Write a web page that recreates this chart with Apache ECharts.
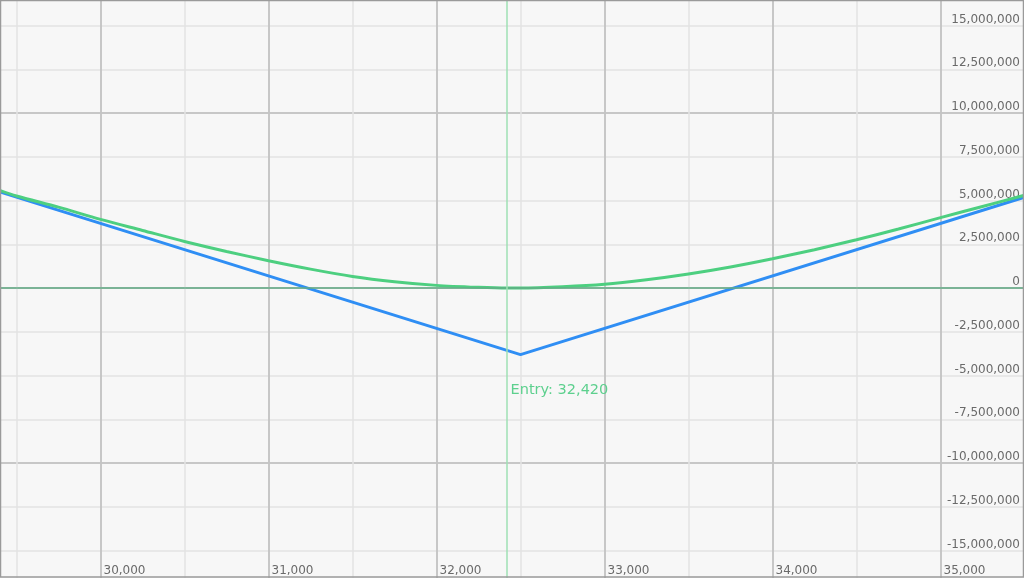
<!DOCTYPE html>
<html>
<head>
<meta charset="utf-8">
<script src="https://cdn.jsdelivr.net/npm/echarts@6/dist/echarts.min.js"></script>
<style>
html,body{margin:0;padding:0;background:#f7f7f7;}
#chart{width:1024px;height:578px;}
</style>
</head>
<body>
<div id="chart"></div>
<script>
// Expiry payoff (blue): price points and P&L
const expiryPrices = [29400, 32500, 35500];
const expiryPnl = [5490000, -3810000, 5190000];

// Current (T+0) P&L curve (green)
const curvePrices = [29400, 29500, 29750, 30000, 30250, 30500, 30750, 31000, 31250, 31500, 31750, 32000, 32250, 32420, 32500, 32750, 33000, 33250, 33500, 33750, 34000, 34250, 34500, 34750, 35000, 35250, 35500];
const curvePnl = [5580000, 5260000, 4620000, 3920000, 3290000, 2660000, 2090000, 1560000, 1080000, 660000, 360000, 150000, 40000, 0, 0, 70000, 210000, 470000, 800000, 1200000, 1670000, 2190000, 2760000, 3370000, 4020000, 4660000, 5300000];

// Entry marker
const entryPrice = 32420;
const entryLabelY = -5870000;

// Axis ranges / steps
const xMin = 29000, xMax = 35500, xMinorStep = 500, xMajorStep = 1000;
const yMin = -20000000, yMax = 20000000, yLabelStep = 2500000, yMajorStep = 10000000;

const fmt = v => Number(v).toLocaleString('en-US');
const FONT = 'DejaVu Sans';

const chart = echarts.init(document.getElementById('chart'));
chart.setOption({
  animation: false,
  backgroundColor: '#f7f7f7',
  grid: { left: -67.5, right: -0.5, top: -62, bottom: -60, containLabel: false, outerBoundsMode: 'none' },
  xAxis: [
    {
      type: 'value', position: 'top', min: xMin, max: xMax, interval: xMinorStep,
      axisLine: { show: false }, axisTick: { show: false }, axisLabel: { show: false },
      splitLine: { show: true, lineStyle: { color: '#e3e3e3', width: 1.5 } }
    },
    {
      type: 'value', position: 'bottom', min: xMin, max: xMax, interval: xMajorStep,
      axisLine: { show: false }, axisTick: { show: false },
      axisLabel: {
        show: true, inside: true, margin: 61, showMaxLabel: false, hideOverlap: false,
        color: '#6a6a6a', fontFamily: FONT, fontSize: 12, align: 'left', padding: [0, 0, 0, 3],
        formatter: v => fmt(v)
      },
      splitLine: { show: true, showMaxLine: false, lineStyle: { color: '#bdbdbd', width: 1.5 } }
    }
  ],
  yAxis: [
    {
      type: 'value', position: 'right', min: yMin, max: yMax, interval: yLabelStep,
      axisLine: { show: false }, axisTick: { show: false },
      axisLabel: {
        show: true, inside: true, margin: 4.5, verticalAlign: 'bottom', hideOverlap: false,
        color: '#6a6a6a', fontFamily: FONT, fontSize: 12,
        formatter: v => fmt(v)
      },
      splitLine: { show: true, lineStyle: { color: '#e3e3e3', width: 1.5 } }
    },
    {
      type: 'value', position: 'right', min: yMin, max: yMax, interval: yMajorStep,
      axisLine: { show: false }, axisTick: { show: false }, axisLabel: { show: false },
      splitLine: { show: true, lineStyle: { color: '#bdbdbd', width: 1.5 } }
    }
  ],
  series: [
    {
      type: 'line', name: 'Expiry', xAxisIndex: 1, yAxisIndex: 0,
      data: expiryPrices.map((p, i) => [p, expiryPnl[i]]),
      showSymbol: false, symbol: 'none',
      lineStyle: { color: '#2f8ef4', width: 3 },
      z: 3,
      markLine: {
        silent: true, symbol: 'none', animation: false,
        label: { show: false },
        data: [
          { yAxis: 0, lineStyle: { color: '#62ad86', width: 1.5, type: 'solid' } },
          { xAxis: entryPrice, lineStyle: { color: '#9fe0b4', width: 1.5, type: 'solid' } }
        ]
      }
    },
    {
      type: 'line', name: 'Current', xAxisIndex: 1, yAxisIndex: 0,
      data: curvePrices.map((p, i) => [p, curvePnl[i]]),
      showSymbol: false, symbol: 'none', smooth: 0.3,
      lineStyle: { color: '#4dcf80', width: 3 },
      z: 4,
      markPoint: {
        silent: true, animation: false,
        symbol: 'circle', symbolSize: 0,
        itemStyle: { color: 'rgba(0,0,0,0)' },
        label: {
          show: true, position: 'right', distance: 3.5,
          color: '#5dd08e', fontFamily: FONT, fontSize: 14.5,
          formatter: 'Entry: ' + fmt(entryPrice)
        },
        data: [{ coord: [entryPrice, entryLabelY] }]
      }
    }
  ],
  graphic: [
    {
      type: 'rect', z: 100, silent: true,
      shape: { x: 0.5, y: 0.5, width: 1023, height: 576.5 },
      style: { fill: 'none', stroke: '#9a9a9a', lineWidth: 1.5 }
    }
  ]
});
</script>
</body>
</html>
